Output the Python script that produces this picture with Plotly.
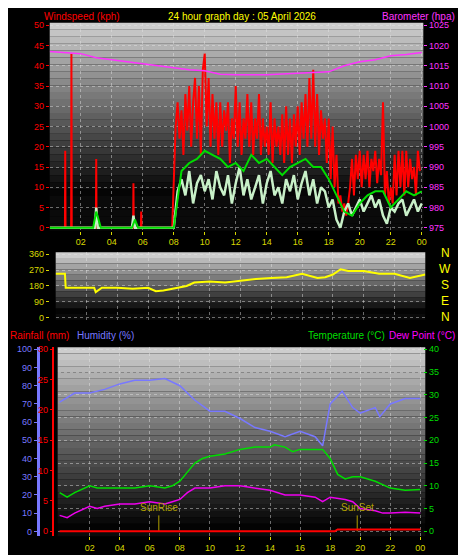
import numpy as np
import plotly.graph_objects as go

W, H = 466, 555
# ---------------- data ----------------
hour_ticks = [2, 4, 6, 8, 10, 12, 14, 16, 18, 20, 22, 24]
hour_labels = ["02", "04", "06", "08", "10", "12", "14", "16", "18", "20", "22", "00"]

gust_early_t = [0, 0.98, 1.0, 1.02, 1.38, 1.4, 1.42, 2.98, 3.0, 3.02, 5.38, 5.4, 5.42, 5.88, 5.9, 5.92, 7.9]
gust_early_v = [0, 0, 19, 0, 0, 43, 0, 0, 17, 0, 0, 11, 0, 0, 4, 0, 0]
gust_day = [13,25,31,22,29,18,33,24, 35,20,31,37,22,35,18,39,
            43,25,37,20,33,22,31,18, 31,20,29,24,31,16,27,22,
            35,20,31,18,27,22,33,20, 31,18,27,22,33,18,27,20,
            25,18,31,16,27,20,25,18, 28,16,30,18,27,16,28,20,
            30,18,31,22,33,20,37,22, 39,20,33,18,29,22,27,16,
            27,12,25,10,18,6,8,4, 6,3,6,10,17,8,18,12,
            19,10,18,12,19,10,17,14, 19,11,17,13,31,8,14,6,
            10,6,18,8,19,10,19,8, 19,10,17,12,15,8,19,14]

avg_t = [0, 2.8, 3.0, 3.3, 5.3, 5.5, 5.7, 8.0, 8.5, 9, 9.5, 10, 10.5, 11, 11.5, 12, 12.5, 13, 13.5, 14, 14.5,
         15, 15.5, 16, 16.5, 17, 17.5, 18, 18.5, 19, 19.5, 20, 20.5, 21, 21.5, 22, 22.5, 23, 23.5, 24]
avg_v = [0, 0, 4, 0, 0, 2, 0, 0, 14, 16, 17, 19, 18, 17, 15, 16, 14, 18, 16, 17, 15,
         13, 15, 16, 17, 15, 15, 12, 8, 4, 3, 6, 8, 9, 9, 5, 7, 9, 8, 9]

speed_early_t = [0, 2.9, 3.0, 3.1, 5.3, 5.4, 5.5, 8.0]
speed_early_v = [0, 0, 5, 0, 0, 3, 0, 0]
speed_day = [0,9,12,8,14,6,11,13,9,12,7,14,10,8,13,6,11,15,8,12,7,10,13,6,11,14,8,10,6,12,9,13,
             7,11,14,8,12,6,10,9,5,7,2,0,4,6,3,5,7,4,6,8,5,7,3,1,5,4,6,7,3,5,7,4,6]

baro_t = list(range(25))
baro_v = [1018.5,1018.3,1018,1017,1016.5,1016,1015.5,1015,1014.5,1014,1013.8,1012.9,1012.8,1012.8,
          1012.8,1013,1013.2,1013.4,1013.5,1015,1016,1016.5,1017.5,1017.8,1018.3]

dir_t = [0, 0.6, 0.65, 2.5, 2.6, 3, 4, 5, 6, 6.5, 7, 8, 8.5, 9, 10, 11, 12, 13, 14, 15, 15.5, 16, 17,
         17.5, 18, 18.5, 19, 20, 21, 22, 23, 24]
dir_v = [250, 250, 170, 170, 145, 170, 170, 165, 170, 150, 155, 170, 180, 200, 205, 200, 210, 220, 225, 230,
         240, 250, 225, 230, 245, 275, 265, 265, 250, 250, 225, 245]

hum_t = [0,1,2,3,4,5,6,7,8,9,10,11,12,13,14,15,16,17,17.5,18,18.8,19.5,20,21,21.3,22,23,24]
hum_v = [71,76,76,78,81,83,83,84,80,72,66,66,62,57,55,52,55,52,47,70,77,68,65,68,63,70,73,73]

temp_t = [0,0.5,1,2,2.5,3,4,5,6,7,7.5,8,8.5,9,9.5,10,11,12,13,14,14.3,15,15.5,16,17,17.5,18,18.5,19,19.5,20,21,22,23,24]
temp_v = [8.5,7.5,8.5,10,9.5,9.5,9.5,9.5,10,9.5,10,11,13,15,16,16.5,17,18,18.5,18.5,19,18.5,17.5,18,18,18,16,12.5,11.5,12,12,11,9.5,9,9.2]

dew_t = [0,0.5,1,2,2.5,3,4,5,6,7,7.5,8,8.5,9,10,11,12,13,14,15,16,17,17.5,18,19,19.5,20,21,21.5,22,23,24]
dew_v = [3.5,3,4,5.5,5,5.5,6,6,6.5,6,6.5,7,8.5,9.5,9.5,10,10,9.5,9,8,8,7.5,6.5,7.5,7,6.5,5,4.5,4,4,4.2,4]

rain_t = [0, 18.3, 18.5, 24]
rain_v = [0, 0, 0.3, 0.3]

sunrise, sunset = 6.6, 19.8

# ---------------- figure ----------------
def py(p):
    return 1 - p / H

def px(p):
    return p / W

fig = go.Figure()
gust_t = gust_early_t + [8 + 0.125 * i for i in range(len(gust_day))]
gust_v = gust_early_v + gust_day
speed_t = speed_early_t + [8 + 0.25 * i for i in range(len(speed_day))]
speed_v = speed_early_v + speed_day

fig.add_trace(go.Scatter(x=gust_t, y=gust_v, mode="lines", line=dict(color="#ff0000", width=2), xaxis="x", yaxis="y"))
fig.add_trace(go.Scatter(x=speed_t, y=speed_v, mode="lines", line=dict(color="#c8f0c8", width=2.5), xaxis="x", yaxis="y"))
fig.add_trace(go.Scatter(x=avg_t, y=avg_v, mode="lines", line=dict(color="#00dd00", width=2), xaxis="x", yaxis="y"))
fig.add_trace(go.Scatter(x=baro_t, y=baro_v, mode="lines", line=dict(color="#ff33ff", width=1.5), xaxis="x", yaxis="y2"))
fig.add_trace(go.Scatter(x=dir_t, y=dir_v, mode="lines", line=dict(color="#ffff00", width=2), xaxis="x2", yaxis="y3"))
fig.add_trace(go.Scatter(x=hum_t, y=hum_v, mode="lines", line=dict(color="#7878ff", width=1.5), xaxis="x3", yaxis="y4"))
fig.add_trace(go.Scatter(x=temp_t, y=temp_v, mode="lines", line=dict(color="#00dd00", width=1.5), xaxis="x3", yaxis="y6"))
fig.add_trace(go.Scatter(x=dew_t, y=dew_v, mode="lines", line=dict(color="#ee00ee", width=1.5), xaxis="x3", yaxis="y6"))
fig.add_trace(go.Scatter(x=rain_t, y=rain_v, mode="lines", line=dict(color="#ff0000", width=2), xaxis="x3", yaxis="y5"))
for s in (sunrise, sunset):
    fig.add_trace(go.Scatter(x=[s, s], y=[0, 3.5], mode="lines", line=dict(color="#b0a000", width=1), xaxis="x3", yaxis="y6"))

# gradient backgrounds
shapes = []
def gradient(x0, x1, y0, y1, n, black_frac):
    for i in range(n):
        f = i / n
        g = int(max(0, 205 * (1 - f / (1 - black_frac)))) if f < 1 - black_frac else 10
        top = y0 + (y1 - y0) * f
        bot = y0 + (y1 - y0) * (f + 1 / n)
        shapes.append(dict(type="rect", xref="paper", yref="paper", x0=px(x0), x1=px(x1), y0=py(bot), y1=py(top),
                           fillcolor=f"rgb({g},{g},{g})", line=dict(width=0), layer="below"))
gradient(42, 418, 12, 222, 30, 0.18)
gradient(48, 420, 244, 312, 12, 0.15)
gradient(50, 420, 340, 531, 30, 0.05)
fig.update_layout(shapes=shapes)

grid = dict(showgrid=True, gridcolor="rgba(230,230,230,0.45)", griddash="dot", gridwidth=1, zeroline=False)
tickf = dict(family="Liberation Sans, Arial", size=9)
xcommon = dict(tickvals=hour_ticks, ticktext=hour_labels, tickfont=dict(tickf, color="#d8d800"),
               ticks="outside", ticklen=3, tickcolor="#d8d800", **grid)

fig.update_layout(
    width=W, height=H, margin=dict(l=0, r=0, t=0, b=0),
    paper_bgcolor="black", plot_bgcolor="rgba(0,0,0,0)", showlegend=False,
    xaxis=dict(domain=[px(42), px(418)], range=[0, 24.1], anchor="y", **xcommon),
    yaxis=dict(domain=[py(222), py(12)], range=[-0.7, 50.6], tickvals=list(range(0, 51, 5)),
               tickfont=dict(tickf, color="#ff0000"), ticks="outside", ticklen=3, tickcolor="#ff0000", **grid),
    yaxis2=dict(overlaying="y", side="right", range=[974.3, 1025.6], tickvals=list(range(975, 1026, 5)),
                tickfont=dict(tickf, color="#ff33ff"), ticks="outside", ticklen=3, tickcolor="#ff33ff", showgrid=False, zeroline=False),
    xaxis2=dict(domain=[px(48), px(420)], range=[0, 24], anchor="y3", tickvals=hour_ticks, showticklabels=False, **grid),
    yaxis3=dict(domain=[py(312), py(244)], range=[-11, 371], tickvals=[0, 90, 180, 270, 360],
                tickfont=dict(tickf, color="#d8d800"), ticks="outside", ticklen=3, tickcolor="#d8d800", **grid),
    xaxis3=dict(domain=[px(50), px(420)], range=[-0.13, 24.33], anchor="y6", **xcommon),
    yaxis4=dict(anchor="free", position=px(30), overlaying="y6", range=[-2.7, 101.1], tickvals=list(range(0, 101, 10)),
                tickfont=dict(tickf, color="#7878ff"), ticks="outside", ticklen=3, tickcolor="#7878ff",
                showline=True, linecolor="#7878ff", linewidth=3, showgrid=False, zeroline=False),
    yaxis5=dict(anchor="free", position=px(45), overlaying="y6", range=[-0.82, 30.33], tickvals=list(range(0, 31, 5)),
                tickfont=dict(tickf, color="#ff0000"), ticks="outside", ticklen=2, tickcolor="#ff0000",
                showline=True, linecolor="#ff0000", linewidth=2, showgrid=False, zeroline=False),
    yaxis6=dict(domain=[py(531), py(340)], side="right", range=[-1.09, 40.43], tickvals=list(range(0, 41, 5)),
                tickfont=dict(tickf, color="#00dd00"), ticks="outside", ticklen=3, tickcolor="#00dd00", **grid),
)

tf = dict(family="Liberation Sans, Arial", size=10)
ann = [
    dict(x=px(34), y=py(-2), text="Windspeed (kph)", font=dict(tf, color="#ff0000"), xanchor="left", yanchor="top"),
    dict(x=px(236), y=py(-2), text="24 hour graph day : 05 April 2026", font=dict(tf, color="#ffff00"), xanchor="center", yanchor="top"),
    dict(x=px(452), y=py(-2), text="Barometer (hpa)", font=dict(tf, color="#ff33ff"), xanchor="right", yanchor="top"),
    dict(x=px(0), y=py(320), text="Rainfall (mm)", font=dict(tf, color="#ff0000"), xanchor="left", yanchor="top"),
    dict(x=px(67), y=py(320), text="Humidity (%)", font=dict(tf, color="#7878ff"), xanchor="left", yanchor="top"),
    dict(x=px(381), y=py(320), text="Temperature (°C)", font=dict(tf, color="#00dd00"), xanchor="right", yanchor="top"),
    dict(x=px(381), y=py(320), text="Dew Point (°C)", font=dict(tf, color="#ff00ff"), xanchor="left", yanchor="top"),
]
for i, d in enumerate(["N", "W", "S", "E", "N"]):
    ann.append(dict(x=px(440), y=py(245 + 16 * i), text=d, font=dict(tf, size=12, color="#ffff00"),
                    xanchor="center", yanchor="middle"))
for s, t in ((sunrise, "SunRise"), (sunset, "SunSet")):
    ann.append(dict(x=s, y=3.5, xref="x3", yref="y6", text=t, font=dict(tf, color="#b0a000"),
                    xanchor="center", yanchor="bottom"))
for a in ann:
    a.setdefault("xref", "paper"); a.setdefault("yref", "paper"); a["showarrow"] = False
fig.update_layout(annotations=ann)

fig.write_html("out.html")
